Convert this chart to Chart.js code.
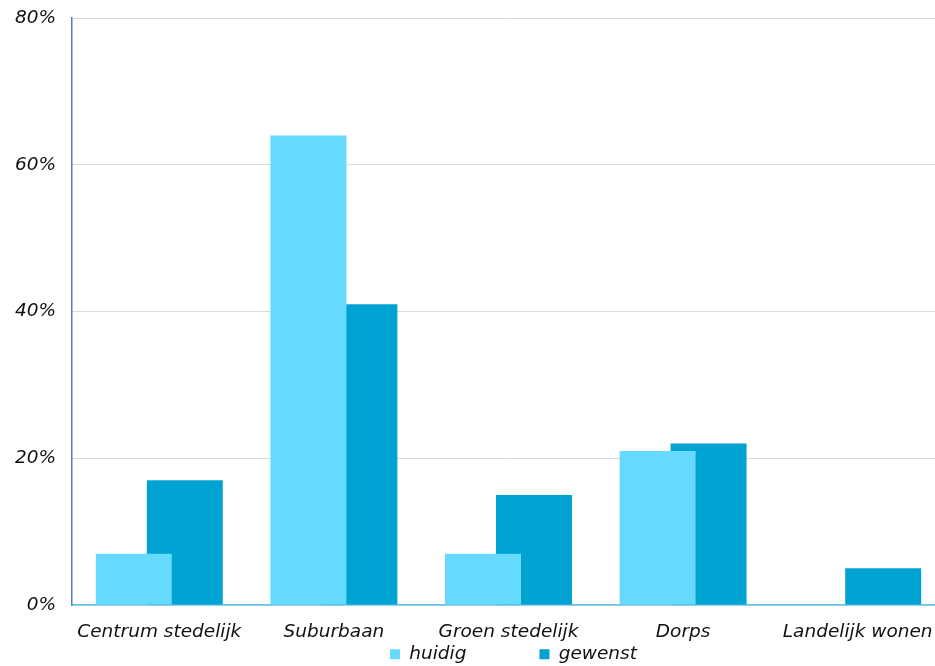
<!DOCTYPE html>
<html>
<head>
<meta charset="utf-8">
<script src="https://cdn.jsdelivr.net/npm/chart.js@4/dist/chart.umd.min.js"></script>
<style>
  body { margin: 0; background: #fff; overflow: hidden; }
  /* the plot runs a little past the right edge of the window, as in the original */
  #wrap { width: 945px; height: 666px; }
</style>
</head>
<body>
<div id="wrap"><canvas id="grafico"></canvas></div>
<script>
const categorias = ['Centrum stedelijk', 'Suburbaan', 'Groen stedelijk', 'Dorps', 'Landelijk wonen'];
const huidig = [7, 64, 7, 21, 0];
const gewenst = [17, 41, 15, 22, 5];
const yTicks = [0, 20, 40, 60, 80];

Chart.defaults.font.family = 'DejaVu Sans';
Chart.defaults.font.size = 18.5;
Chart.defaults.font.style = 'italic';
Chart.defaults.color = '#111';

// legend spacing like the original: wide gap between items, row just under the axis labels
const legendPlace = {
  id: 'legendPlace',
  afterInit(chart) {
    const lg = chart.legend;
    const draw = lg.draw;
    lg.draw = function () {
      const pad = this.options.labels.padding;
      const t = this.top, l = this.left, r = this.right;
      const x0 = (l + pad + r - this.lineWidths[0]) / 2;
      const dx = 390 - x0;
      this.top = t - pad;
      this.left = l + dx;
      this.right = r + dx;
      draw.call(this);
      this.top = t; this.left = l; this.right = r;
    };
  }
};

const ctx = document.getElementById('grafico').getContext('2d');
const grafico = new Chart(ctx, {
  type: 'bar',
  data: {
    labels: categorias,
    datasets: [{
      label: 'huidig',
      data: huidig,
      backgroundColor: '#66d9ff',
      borderWidth: 0
    }, {
      label: 'gewenst',
      data: gewenst,
      backgroundColor: '#00a2d2',
      borderWidth: 0
    }]
  },
  options: {
    responsive: true,
    maintainAspectRatio: false,
    animation: false,
    categoryPercentage: 0.584,
    barPercentage: 1.49,
    layout: { padding: { top: 18, right: 0, bottom: 0, left: 0 } },
    plugins: {
      tooltip: { enabled: false },
      legend: {
        position: 'bottom',
        maxHeight: 21,
        labels: { boxWidth: 10, boxHeight: 10, padding: 73, color: '#111' }
      }
    },
    scales: {
      x: {
        grid: { display: false },
        border: { display: true, color: '#5ec4e8', width: 1.5 },
        ticks: { padding: 8, color: '#111', maxRotation: 0, autoSkip: false },
        afterFit(s) { s.height = 40; }
      },
      y: {
        min: 0,
        max: 80,
        afterBuildTicks(s) { s.ticks = yTicks.map(v => ({ value: v })); },
        grid: { color: '#d9d9d9', drawTicks: false },
        border: { display: true, color: '#4a7bd4', width: 1.5 },
        ticks: { padding: 16, color: '#111', callback: v => v + '%' },
        afterFit(s) { s.width = 72; s.paddingTop = 0; s.paddingBottom = 0; }
      }
    }
  },
  plugins: [legendPlace]
});
</script>
</body>
</html>
